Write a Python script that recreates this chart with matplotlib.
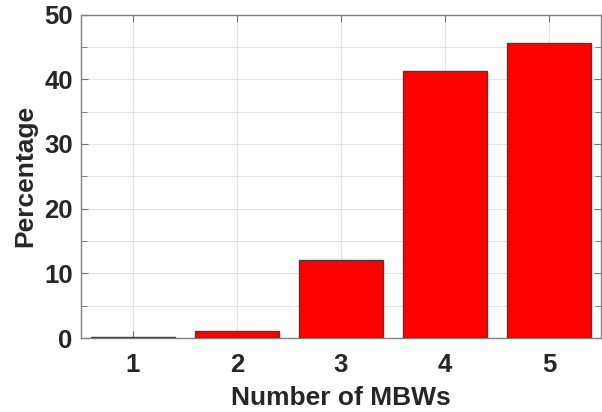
import matplotlib.pyplot as plt
from matplotlib.ticker import MultipleLocator

mbws = [1, 2, 3, 4, 5]
percentage = [0.2, 1.1, 12.1, 41.3, 45.6]

plt.rcParams['font.family'] = ['Liberation Sans', 'DejaVu Sans']
plt.rcParams['font.weight'] = 'bold'

fig = plt.figure(figsize=(6.02, 4.12), dpi=100)
ax = fig.add_axes([0.1346, 0.1796, 0.8637, 0.7852])

ax.bar(mbws, percentage, width=0.8, color='#ff0000', edgecolor='#404040',
       linewidth=1.0, zorder=3)

ax.set_xlim(0.5, 5.5)
ax.set_ylim(0, 50)
ax.set_xticks(mbws)
ax.yaxis.set_major_locator(MultipleLocator(10))
ax.yaxis.set_minor_locator(MultipleLocator(5))

ax.grid(True, which='both', color='#e3e3e3', linewidth=0.8, zorder=0)
ax.set_axisbelow(True)

ax.tick_params(which='both', direction='in', top=True, right=True,
               color='#707070', labelsize=18.5, labelcolor='#262626')
ax.tick_params(axis='x', pad=11)
ax.tick_params(axis='y', pad=6)
ax.tick_params(which='major', length=5)
ax.tick_params(which='minor', length=4)
for lab in ax.get_xticklabels() + ax.get_yticklabels():
    lab.set_fontweight('bold')

for s in ax.spines.values():
    s.set_color('#808080')
    s.set_linewidth(1.0)

ax.set_xlabel('Number of MBWs', fontsize=19, fontweight='bold', color='#262626', labelpad=6)
ax.set_ylabel('Percentage', fontsize=19, fontweight='bold', color='#262626', labelpad=5)

fig.savefig('out.png', dpi=100)
